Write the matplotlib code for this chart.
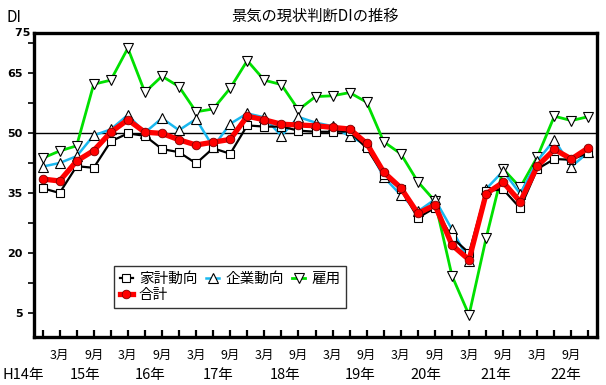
import matplotlib
matplotlib.use("Agg")
import matplotlib.pyplot as plt
import numpy as np

plt.rcParams['font.family'] = ['Noto Sans CJK JP', 'DejaVu Sans']

# Quarterly data: H14.12 ... H22.12
kakei = [36.2, 35.0, 41.7, 41.3, 47.9, 49.9, 49.3, 46.0, 45.2, 42.4, 46.2, 44.8,
         51.9, 51.6, 51.6, 50.6, 50.3, 50.3, 50.4, 46.2, 39.5, 36.0, 28.8, 31.3,
         23.9, 20.0, 35.5, 35.9, 31.2, 41.0, 43.5, 43.3, 45.1]
kigyo = [41.6, 42.5, 44.2, 49.4, 50.9, 54.5, 50.1, 53.7, 50.7, 53.5, 46.5, 52.3,
         54.9, 53.9, 49.3, 54.0, 52.6, 51.7, 49.2, 47.0, 39.0, 34.5, 30.4, 33.4,
         25.9, 17.9, 36.0, 40.5, 34.8, 43.0, 48.3, 41.6, 45.2]
koyo = [43.7, 45.5, 46.8, 62.2, 63.2, 71.2, 60.2, 64.2, 61.6, 55.3, 56.0, 61.2,
        68.1, 63.2, 62.1, 55.8, 59.1, 59.3, 60.1, 57.7, 47.8, 44.8, 37.8, 33.0,
        14.3, 4.5, 23.7, 41.0, 36.4, 44.0, 54.2, 53.1, 54.1]
goukei = [38.5, 38.0, 43.0, 45.6, 50.2, 53.3, 50.2, 49.9, 48.3, 47.0, 47.7, 48.4,
          54.2, 53.3, 52.2, 52.0, 51.8, 51.4, 51.0, 47.4, 40.2, 36.3, 29.9, 32.0,
          22.0, 18.3, 34.8, 37.7, 32.8, 41.7, 45.9, 43.5, 46.3]

month_labels = ['3月', '9月']
year_labels = ['H14年', '15年', '16年', '17年', '18年', '19年', '20年', '21年', '22年']
year_pos = [-1.1, 2.5, 6.3, 10.3, 14.2, 18.6, 22.5, 26.6, 30.7]
ytick_labels = [5, 20, 35, 50, 65]

n = len(kakei)
x = np.arange(n)

fig = plt.figure(figsize=(6.06, 3.85), dpi=100)
ax = fig.add_axes([34/606, 1-337/385, (597-34)/606, (337-33)/385])

ax.axhline(50, color='black', lw=1.0, zorder=1)

ax.plot(x, koyo, color='#00e000', lw=2.0, marker='v', ms=6.5, mfc='white',
        mec='black', mew=0.8, zorder=2, label='雇用')
ax.plot(x, kigyo, color='#1ab8ef', lw=1.8, marker='^', ms=6.5, mfc='white',
        mec='black', mew=0.8, zorder=3, label='企業動向')
ax.plot(x, kakei, color='black', lw=1.6, marker='s', ms=5.5, mfc='white',
        mec='black', mew=0.8, zorder=4, label='家計動向')
ax.plot(x, goukei, color='#ff0000', lw=3.8, marker='o', ms=6.2, mfc='#ff0000',
        mec='#800000', mew=0.6, zorder=5, label='合計')

ax.set_xlim(-0.5, n - 0.5)
ax.set_ylim(-1, 75)

for s in ax.spines.values():
    s.set_linewidth(2.4)

# y ticks
yt = np.arange(5, 75, 7.5)
ax.set_yticks(yt)
ax.set_yticklabels([str(int(v)) if v in ytick_labels else '' for v in yt],
                   fontsize=8, fontweight='bold', family='DejaVu Sans')
ax.tick_params(axis='y', direction='out', length=4, width=1.2, pad=4)
ax.text(-0.0, 75, '75 ', transform=ax.get_yaxis_transform(), ha='right',
        va='center', fontsize=8, fontweight='bold', family='DejaVu Sans')

# x ticks
ax.set_xticks(x)
ax.set_xticklabels([])
ax.tick_params(axis='x', direction='in', length=5, width=1.6)
for i in x:
    if i % 4 == 1:
        lab = month_labels[0]
    elif i % 4 == 3:
        lab = month_labels[1]
    else:
        continue
    ax.text(i, -(355-337)/304, lab, transform=ax.get_xaxis_transform(), ha='center',
            va='center', fontsize=9)
for p, lab in zip(year_pos, year_labels):
    ax.text(p, -(375-337)/304, lab, transform=ax.get_xaxis_transform(), ha='center',
            va='center', fontsize=10.5)

fig.text(315/606, 1-16/385, '景気の現状判断DIの推移', ha='center', va='center', fontsize=11)
fig.text(6/606, 1-17/385, 'DI', ha='left', va='center', fontsize=11)

h, l = ax.get_legend_handles_labels()
order = [2, 3, 1, 0]
leg = ax.legend([h[i] for i in order], [l[i] for i in order], ncol=3,
                loc='upper left', bbox_to_anchor=((114-34)/563, (337-266)/304),
                fontsize=10.5, frameon=True, fancybox=False, edgecolor='black',
                handlelength=0.9, handletextpad=0.4, columnspacing=0.6,
                labelspacing=0.15, borderpad=0.4, borderaxespad=0)
leg.get_frame().set_linewidth(1.0)

fig.savefig('out.png', dpi=100)
